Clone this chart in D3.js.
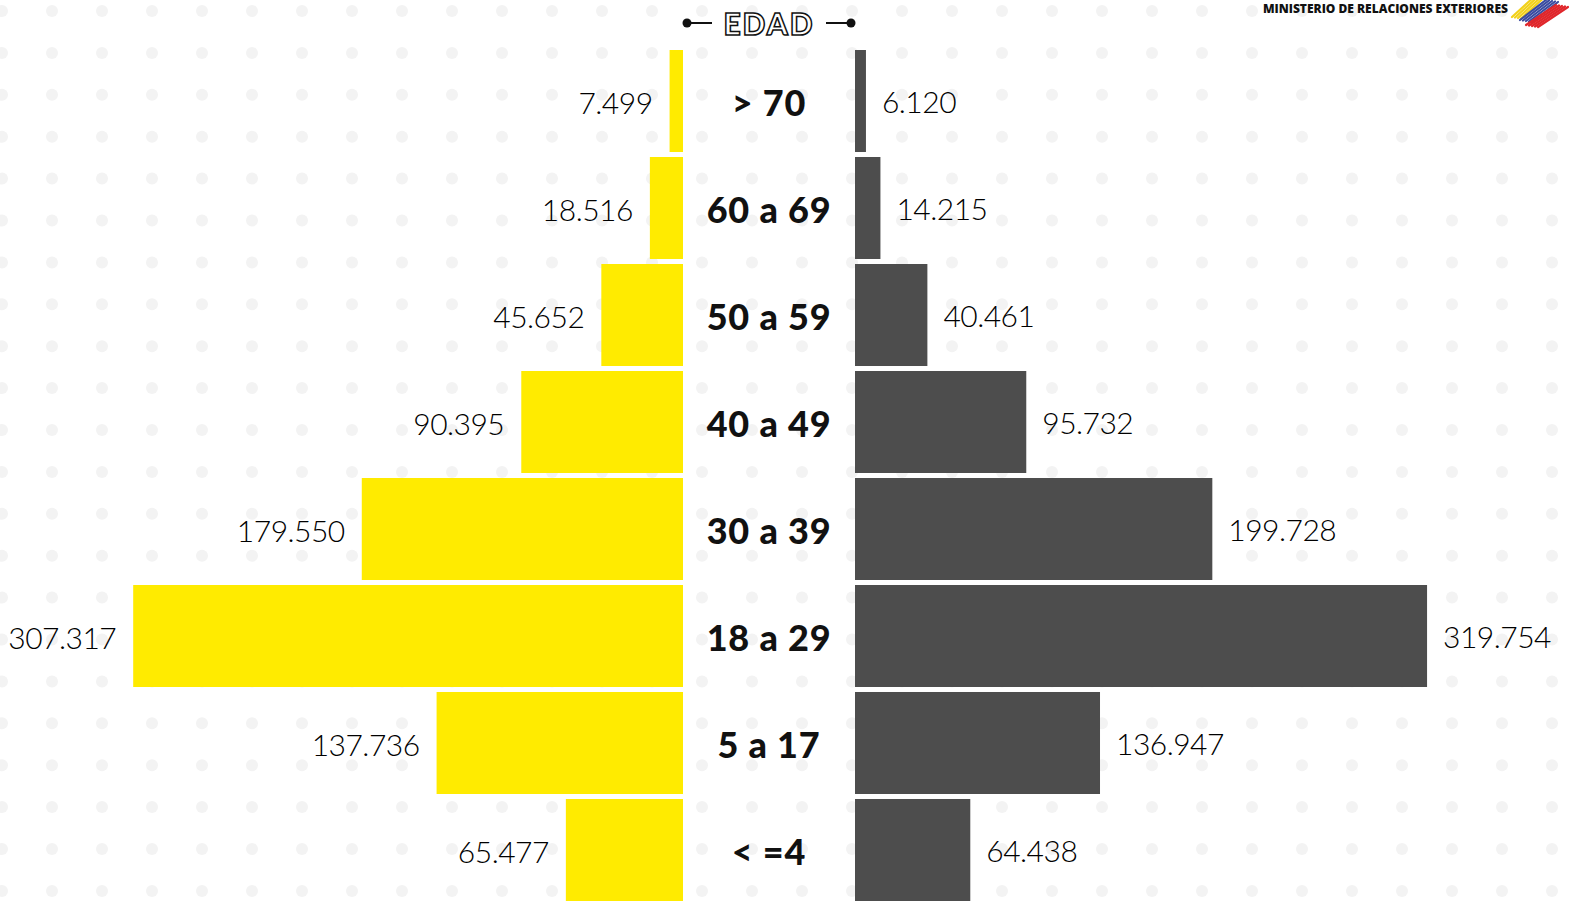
<!DOCTYPE html>
<html>
<head>
<meta charset="utf-8">
<script src="https://cdn.jsdelivr.net/npm/d3@7"></script>
<style>
  html, body { margin: 0; padding: 0; background: #fff; overflow: hidden; }
  svg { display: block; }
</style>
</head>
<body>
<svg id="chart" width="1569" height="902"></svg>
<script>
// ---- data ----
const categories = ["> 70", "60 a 69", "50 a 59", "40 a 49", "30 a 39", "18 a 29", "5 a 17", "< =4"];
const leftValues = [7499, 18516, 45652, 90395, 179550, 307317, 137736, 65477];
const rightValues = [6120, 14215, 40461, 95732, 199728, 319754, 136947, 64438];
const title = "EDAD";
const logoText = "MINISTERIO DE RELACIONES EXTERIORES";

const W = 1569, H = 902;
const svg = d3.select("#chart");

// dotted background
const bg = svg.append("g");
for (let y = 11; y < H + 10; y += 41.9) {
  for (let x = 2; x < W + 10; x += 50) {
    bg.append("circle").attr("cx", x).attr("cy", y).attr("r", 6).attr("fill", "#f3f3f3");
  }
}

const fmt = v => d3.format(",")(v).replace(/,/g, ".");

const y = d3.scaleBand().domain(categories).range([50, 901]).paddingInner(0.0467).paddingOuter(0);
const maxV = 320000;
const xL = d3.scaleLinear().domain([0, maxV]).range([683, 683 - 572.5]);
const xR = d3.scaleLinear().domain([0, maxV]).range([855, 855 + 572.5]);

const rows = categories.map((c, i) => ({ c, l: leftValues[i], r: rightValues[i] }));

// bars
svg.append("g").selectAll("rect").data(rows).join("rect")
  .attr("x", d => xL(d.l)).attr("y", d => y(d.c))
  .attr("width", d => xL(0) - xL(d.l)).attr("height", y.bandwidth())
  .attr("fill", "#FFEB00");
svg.append("g").selectAll("rect").data(rows).join("rect")
  .attr("x", xR(0)).attr("y", d => y(d.c))
  .attr("width", d => xR(d.r) - xR(0)).attr("height", y.bandwidth())
  .attr("fill", "#4D4D4D");

// value labels
const numFont = "Lato, 'Open Sans', sans-serif";
svg.append("g").selectAll("text").data(rows).join("text")
  .attr("x", d => xL(d.l) - 17).attr("y", d => y(d.c) + y.bandwidth() / 2 + 1)
  .attr("text-anchor", "end").attr("dominant-baseline", "central")
  .attr("font-family", numFont).attr("font-size", 30).attr("font-weight", 300)
  .attr("fill", "#000").attr("letter-spacing", -0.5).text(d => fmt(d.l));
svg.append("g").selectAll("text").data(rows).join("text")
  .attr("x", d => xR(d.r) + 16).attr("y", d => y(d.c) + y.bandwidth() / 2)
  .attr("text-anchor", "start").attr("dominant-baseline", "central")
  .attr("font-family", numFont).attr("font-size", 30).attr("font-weight", 300)
  .attr("fill", "#000").attr("letter-spacing", -0.5).text(d => fmt(d.r));

// category labels
svg.append("g").selectAll("text").data(rows).join("text")
  .attr("x", 769).attr("y", d => y(d.c) + y.bandwidth() / 2 + 1)
  .attr("text-anchor", "middle").attr("dominant-baseline", "central")
  .attr("font-family", numFont).attr("font-size", 36).attr("font-weight", 900)
  .attr("letter-spacing", 0.8)
  .attr("fill", "#111").text(d => d.c);

// title
const tg = svg.append("g");
tg.append("line").attr("x1", 687).attr("x2", 712).attr("y1", 23).attr("y2", 23).attr("stroke", "#111").attr("stroke-width", 2);
tg.append("circle").attr("cx", 687).attr("cy", 23).attr("r", 4.5).attr("fill", "#111");
tg.append("line").attr("x1", 826).attr("x2", 851).attr("y1", 23).attr("y2", 23).attr("stroke", "#111").attr("stroke-width", 2);
tg.append("circle").attr("cx", 851).attr("cy", 23).attr("r", 4.5).attr("fill", "#111");
tg.append("text").attr("x", 769).attr("y", 23).attr("text-anchor", "middle").attr("dominant-baseline", "central")
  .attr("font-family", numFont).attr("font-size", 30).attr("font-weight", 900)
  .attr("fill", "#fff").attr("stroke", "#111").attr("stroke-width", 1.5)
  .attr("letter-spacing", 2).text(title);

// logo
svg.append("text").attr("x", 1508).attr("y", 13).attr("text-anchor", "end")
  .attr("font-family", "'Open Sans', sans-serif").attr("font-size", 12).attr("font-weight", 800)
  .attr("fill", "#111").text(logoText);
const stripes = [
  { c: "#F2D11A", x: 1512, y: 17, dx: 22, n: 4 },
  { c: "#3A4BA0", x: 1520, y: 20, dx: 26, n: 5 },
  { c: "#E0262B", x: 1526, y: 25, dx: 30, n: 5 }
];
const lg = svg.append("g");
stripes.forEach(s => {
  for (let k = 0; k < s.n; k++) {
    lg.append("line").attr("x1", s.x + k * 3).attr("y1", s.y + k * 0.5)
      .attr("x2", s.x + k * 3 + s.dx).attr("y2", s.y + k * 0.5 - 20)
      .attr("stroke", s.c).attr("stroke-width", 2.2).attr("stroke-linecap", "round");
  }
});
</script>
</body>
</html>
